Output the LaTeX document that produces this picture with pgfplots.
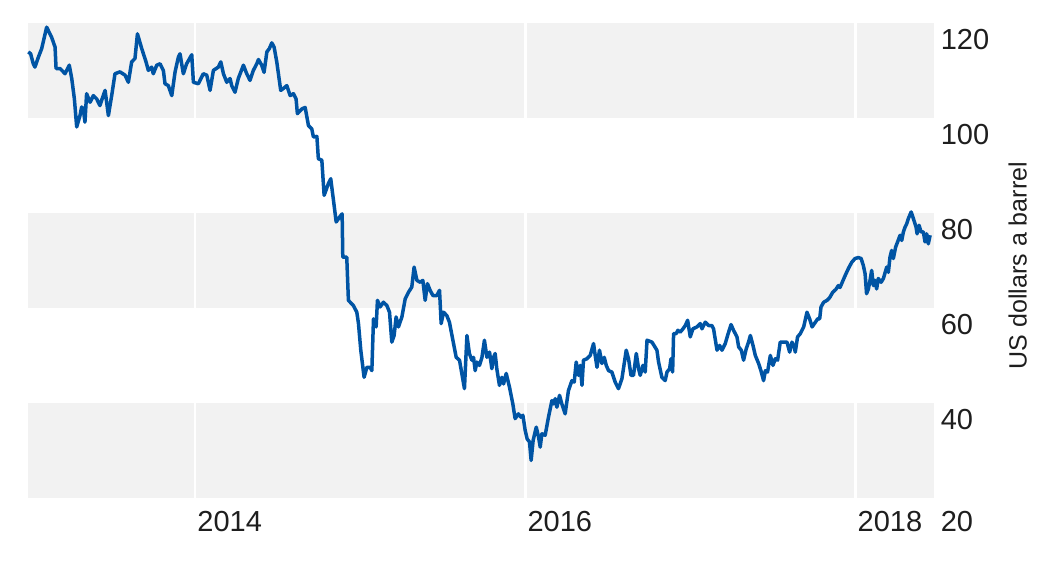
\documentclass[border=0pt]{standalone}
\usepackage{pgfplots}
\usepackage{pgfplotstable}
\pgfplotsset{compat=1.18}
\usepackage{fontspec}
\setmainfont{Liberation Sans}
\definecolor{rbablue}{RGB}{0,84,164}
\definecolor{band}{RGB}{242,242,242}
\definecolor{txt}{RGB}{30,30,30}
\pgfplotstableread{
year price
2012.990 114.0
2013.004 113.6
2013.020 111.5
2013.030 110.8
2013.051 112.9
2013.071 114.7
2013.101 119.2
2013.131 117.1
2013.152 115.0
2013.158 110.5
2013.182 110.5
2013.202 109.8
2013.212 109.4
2013.238 111.2
2013.253 108.4
2013.269 104.1
2013.283 98.2
2013.303 100.6
2013.313 102.4
2013.323 102.0
2013.333 99.2
2013.343 105.2
2013.364 103.4
2013.384 104.8
2013.404 104.1
2013.424 102.7
2013.434 103.8
2013.455 105.9
2013.475 100.6
2013.495 104.8
2013.515 109.4
2013.545 109.8
2013.576 109.1
2013.596 107.6
2013.616 111.9
2013.636 112.6
2013.651 117.8
2013.677 114.7
2013.703 111.9
2013.717 110.1
2013.737 110.8
2013.747 109.4
2013.768 111.2
2013.788 111.5
2013.808 110.1
2013.818 107.3
2013.838 106.9
2013.859 104.8
2013.879 109.8
2013.899 112.9
2013.909 113.6
2013.929 109.4
2013.949 111.5
2013.980 113.4
2013.990 107.6
2014.020 107.3
2014.050 109.4
2014.071 109.1
2014.091 105.9
2014.111 110.1
2014.141 110.8
2014.156 111.9
2014.172 109.4
2014.192 107.6
2014.212 108.4
2014.222 106.9
2014.242 105.5
2014.262 108.4
2014.293 111.2
2014.313 109.4
2014.333 108.0
2014.353 110.1
2014.374 111.5
2014.384 112.4
2014.404 111.2
2014.418 109.7
2014.435 114.0
2014.450 114.7
2014.465 115.9
2014.479 115.0
2014.495 111.9
2014.519 105.9
2014.535 106.3
2014.556 106.9
2014.576 104.8
2014.596 105.2
2014.612 104.1
2014.620 101.0
2014.647 102.0
2014.667 102.3
2014.687 98.5
2014.707 97.8
2014.717 96.1
2014.738 96.2
2014.747 91.5
2014.768 91.2
2014.782 83.8
2014.808 86.3
2014.822 87.3
2014.855 78.2
2014.875 79.2
2014.891 79.9
2014.895 70.8
2014.919 70.8
2014.929 61.7
2014.959 60.6
2014.980 59.2
2014.990 56.8
2015.004 51.2
2015.024 45.5
2015.041 47.6
2015.061 47.6
2015.071 46.9
2015.081 57.8
2015.097 56.1
2015.105 61.7
2015.121 60.3
2015.141 61.3
2015.162 60.6
2015.178 59.2
2015.192 52.9
2015.206 54.3
2015.218 58.2
2015.232 56.1
2015.253 58.2
2015.273 62.0
2015.293 63.4
2015.313 64.5
2015.327 68.7
2015.344 65.9
2015.364 65.5
2015.380 65.9
2015.394 61.7
2015.408 65.2
2015.424 63.8
2015.441 62.7
2015.465 62.7
2015.481 63.8
2015.491 56.8
2015.505 59.2
2015.525 58.5
2015.541 57.1
2015.562 53.3
2015.582 49.7
2015.602 49.1
2015.616 46.3
2015.632 43.1
2015.647 54.3
2015.662 50.5
2015.677 49.1
2015.687 49.7
2015.697 46.9
2015.707 48.7
2015.723 48.0
2015.738 49.7
2015.753 53.3
2015.768 49.7
2015.784 50.8
2015.798 47.3
2015.808 49.7
2015.818 50.5
2015.828 47.3
2015.844 43.8
2015.859 45.5
2015.869 44.1
2015.885 46.3
2015.905 43.4
2015.925 39.9
2015.939 36.8
2015.959 37.8
2015.974 37.1
2015.986 37.5
2016.000 34.3
2016.012 32.5
2016.026 31.9
2016.036 28.0
2016.048 32.2
2016.067 35.0
2016.081 32.9
2016.091 30.8
2016.101 33.6
2016.121 33.3
2016.141 37.1
2016.162 40.6
2016.172 39.9
2016.182 41.0
2016.192 39.2
2016.208 41.7
2016.222 39.9
2016.242 37.8
2016.262 42.7
2016.283 44.8
2016.297 44.5
2016.309 48.7
2016.323 45.9
2016.333 48.0
2016.344 43.8
2016.353 49.1
2016.374 49.4
2016.394 50.1
2016.414 52.6
2016.424 50.1
2016.435 47.6
2016.450 51.2
2016.465 48.4
2016.479 49.7
2016.491 48.0
2016.505 46.9
2016.525 46.6
2016.545 44.5
2016.565 43.1
2016.586 45.2
2016.612 51.2
2016.626 49.4
2016.641 45.9
2016.656 45.9
2016.673 50.5
2016.687 47.3
2016.697 45.9
2016.713 48.0
2016.727 46.6
2016.738 53.3
2016.768 52.9
2016.798 51.2
2016.808 48.7
2016.828 45.5
2016.848 44.8
2016.859 46.6
2016.875 47.3
2016.883 49.4
2016.893 46.6
2016.899 54.7
2016.915 54.7
2016.925 55.4
2016.939 55.0
2016.956 55.7
2016.970 56.4
2016.984 57.5
2017.000 54.0
2017.016 55.7
2017.040 56.1
2017.061 56.8
2017.071 55.7
2017.091 57.1
2017.111 56.4
2017.131 56.4
2017.141 55.7
2017.162 51.2
2017.178 52.2
2017.192 51.2
2017.212 52.6
2017.226 54.3
2017.247 56.6
2017.262 55.4
2017.283 54.0
2017.293 51.9
2017.309 51.2
2017.323 49.1
2017.339 51.5
2017.353 52.9
2017.364 54.3
2017.380 52.2
2017.394 50.1
2017.414 48.4
2017.428 46.9
2017.444 44.8
2017.455 46.9
2017.468 46.6
2017.485 50.1
2017.501 48.0
2017.515 49.4
2017.529 49.1
2017.545 52.9
2017.565 52.9
2017.586 52.9
2017.602 50.8
2017.616 52.9
2017.630 51.9
2017.636 50.8
2017.650 54.0
2017.667 54.7
2017.687 56.1
2017.707 59.2
2017.723 57.8
2017.738 56.1
2017.758 57.1
2017.772 57.8
2017.784 57.8
2017.792 60.3
2017.808 61.3
2017.829 61.7
2017.845 62.3
2017.863 63.4
2017.882 64.0
2017.897 64.8
2017.907 64.4
2017.917 65.2
2017.938 66.9
2017.958 68.4
2017.978 69.7
2017.998 70.5
2018.018 70.7
2018.035 70.5
2018.048 69.1
2018.059 67.3
2018.068 63.1
2018.079 64.1
2018.089 65.9
2018.099 68.0
2018.109 64.8
2018.119 65.9
2018.129 64.1
2018.139 66.3
2018.156 65.5
2018.170 66.3
2018.190 68.7
2018.200 67.6
2018.210 70.8
2018.220 72.2
2018.230 70.5
2018.244 72.9
2018.256 74.0
2018.271 75.4
2018.281 74.3
2018.291 76.1
2018.301 77.1
2018.311 77.8
2018.321 78.9
2018.338 80.3
2018.345 79.6
2018.358 78.2
2018.368 77.1
2018.374 75.7
2018.386 77.5
2018.398 76.1
2018.412 76.1
2018.422 74.0
2018.432 75.7
2018.442 73.6
2018.453 75.4
}\brent
\begin{document}
\begin{tikzpicture}
\useasboundingbox (-14pt,-39.9pt) rectangle (512pt,249.2pt);
\begin{axis}[
  scale only axis,
  width=453.2pt, height=237.5pt,
  xmin=2012.988, xmax=2018.479,
  ymin=20, ymax=120,
  axis line style={draw=none},
  major tick length=0pt,
  xtick={2014,2016,2018},
  xticklabels={2014,2016,2018},
  ytick={40,60,80,100,120},
  extra y ticks={20},
  extra y tick style={yticklabel style={yshift=-3.7pt}},
  yticklabel pos=right,
  /pgf/number format/assume math mode=true,
  xticklabel style={anchor=north west, inner sep=0pt, xshift=1pt, yshift=-6.2pt,
    font=\fontsize{14.5}{16}\selectfont, text=txt},
  yticklabel style={anchor=north west, inner sep=0pt, xshift=3pt, yshift=-2.5pt,
    font=\fontsize{14.5}{16}\selectfont, text=txt},
  clip=false,
]
\fill[band] (rel axis cs:0,0) rectangle (rel axis cs:1,0.2);
\fill[band] (rel axis cs:0,0.4) rectangle (rel axis cs:1,0.6);
\fill[band] (rel axis cs:0,0.8) rectangle (rel axis cs:1,1);
\draw[white, line width=1.3pt] (axis cs:2014,20) -- (axis cs:2014,120);
\draw[white, line width=1.3pt] (axis cs:2016,20) -- (axis cs:2016,120);
\draw[white, line width=1.3pt] (axis cs:2018,20) -- (axis cs:2018,120);
\addplot[rbablue, line width=1.75pt, line join=round, mark=none] table[x=year, y=price] {\brent};
\end{axis}
\node[rotate=90, anchor=center, text=txt, font=\fontsize{12.5}{14}\selectfont]
  at (453.2pt+41.6pt,116.4pt) {US dollars a barrel};
\end{tikzpicture}
\end{document}
